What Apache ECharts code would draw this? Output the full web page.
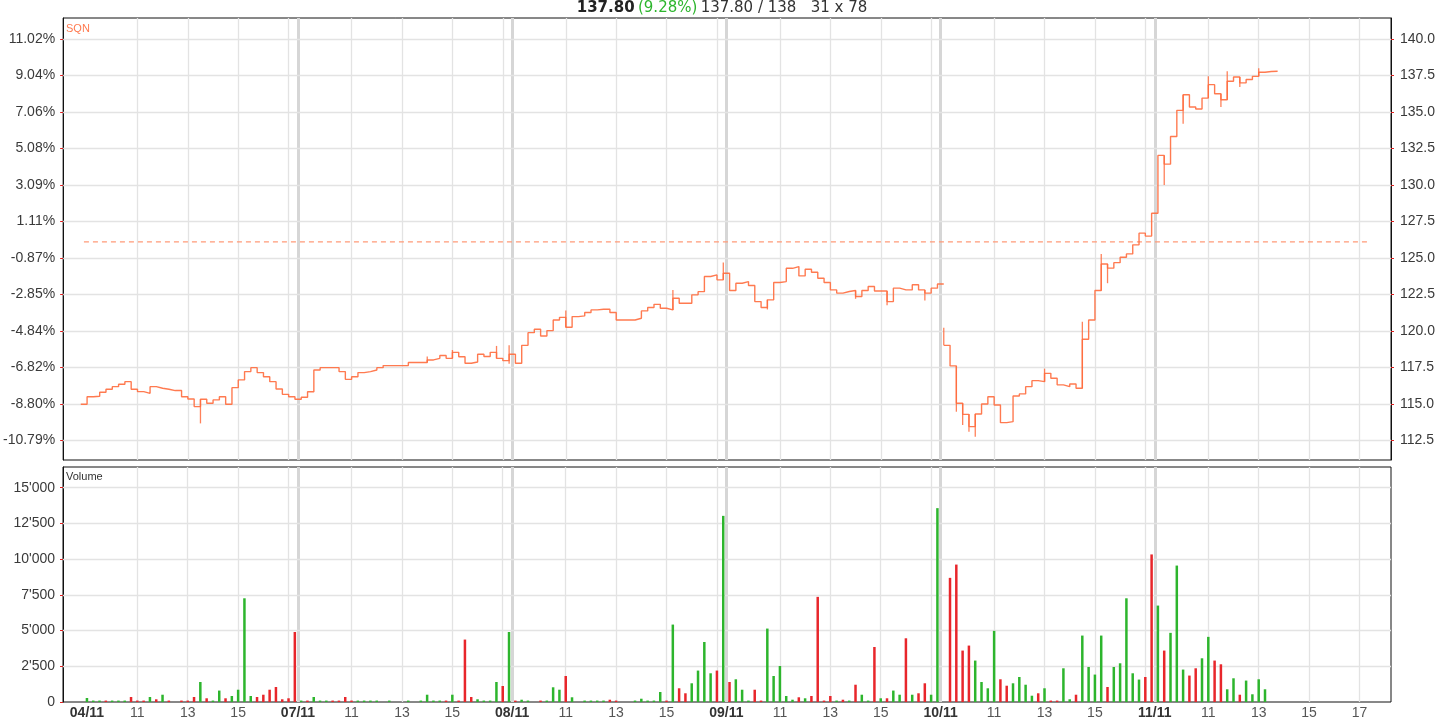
<!DOCTYPE html>
<html><head><meta charset="utf-8">
<script src="https://cdn.jsdelivr.net/npm/echarts@6/dist/echarts.min.js"></script>
<style>html,body{margin:0;padding:0;background:#fff}#c{width:1455px;height:727px}</style>
</head><body><div id="c"></div>
<script>
// ---------- data ----------
const days = ['04/11', '07/11', '08/11', '09/11', '10/11', '11/11'];
const slotsPerDay = 34;               // 15-minute bars, 09:00 .. 17:15
const hourTicks = ['11', '13', '15', '17'];
const hourSlots = [8, 16, 24, 32];    // 15-min slot of 11:00, 13:00, 15:00, 17:00
const priceTicks = [112.5, 115, 117.5, 120, 122.5, 125, 127.5, 130, 132.5, 135, 137.5, 140];
const volumeTicks = [0, 2500, 5000, 7500, 10000, 12500, 15000];
const refPrice = 126.10;
const header = { last: '137.80', change: '9.28%', bidAsk: '137.80 / 138', size: '31 x 78' };

// close price per 15-min slot, first value at slot -1
const priceStartSlot = -1;
const price = [
  114.97,115.49,115.52,115.79,116.00,116.18,116.34,116.52,116.00,115.84,
  115.72,116.18,116.07,116.00,115.91,115.91,115.49,115.33,114.81,115.31,
  115.04,115.27,115.49,114.97,116.11,116.64,117.21,117.48,117.14,116.86,
  116.52,116.02,115.65,115.49,115.31,115.45,115.83,117.32,117.48,117.48,
  117.48,117.21,116.68,116.86,117.14,117.21,117.32,117.48,117.62,117.62,
  117.62,117.62,117.83,117.83,117.83,118.01,118.12,118.31,118.12,118.53,
  118.23,117.78,117.87,118.40,118.24,118.53,118.12,117.96,118.40,117.78,
  119.01,119.88,120.11,119.65,120.02,120.75,120.93,120.25,120.98,121.03,
  121.26,121.44,121.48,121.48,121.26,120.75,120.75,120.75,120.87,121.37,
  121.60,121.82,121.55,121.44,122.24,121.90,121.90,122.47,122.69,123.73,
  123.84,123.50,123.95,122.77,123.27,123.38,123.11,122.01,121.60,122.13,
  123.32,123.38,124.29,124.41,123.77,124.23,124.02,123.61,123.32,122.81,
  122.59,122.70,122.77,122.36,122.77,123.04,122.74,122.74,122.01,122.93,
  122.81,122.81,123.16,122.81,122.59,122.93,123.22,119.01,117.60,115.04,
  114.28,113.44,114.30,114.99,115.49,114.92,113.71,113.78,115.54,115.68,
  116.18,116.59,116.52,117.09,116.75,116.30,116.18,116.36,116.07,119.43,
  120.75,122.77,124.59,124.30,124.68,125.05,125.28,125.90,126.70,126.50,
  128.07,132.03,131.43,133.33,135.12,136.19,135.35,135.21,135.96,136.88,
  136.26,135.85,137.11,137.41,137.00,137.23,137.45,137.73,137.78,137.80
];
const priceGapSlots = [136];           // opening gap on 10/11

// visible high/low ranges of single 15-min bars: [slot, low, high]
const highLow = [
  [18,113.66,115.31],[54,117.83,118.24],[58,118.12,118.69],[65,118.12,118.97],[67,117.74,119.01],
  [76,120.25,121.39],[93,121.44,122.81],[101,123.50,124.69],[108,121.47,122.13],[122,122.20,122.77],
  [127,121.76,122.74],[133,122.08,122.81],[136,119.01,120.22],[138,114.46,117.60],[139,113.55,115.04],
  [140,113.09,114.28],[141,112.75,114.30],[152,116.52,117.41],[158,116.07,120.63],[161,122.77,125.28],
  [162,123.27,124.59],[171,130.01,132.03],[174,134.20,136.19],[178,135.96,137.45],[180,135.35,136.26],
  [181,135.85,137.80],[183,136.72,137.41],[186,137.45,138.00]
];

// volume per 15-min slot of each day, and direction (g = up, r = down)
const volD1 = [280,100,100,100,100,100,100,350,100,100,350,190,510,100,0,100,100,350,1400,260,100,800,260,420,860,7260,420,350,510,860,1050,190,260,4900];
const volD2 = [100,100,350,100,100,100,100,350,100,100,100,100,100,0,100,0,0,100,0,100,510,100,100,100,510,100,4370,350,190,100,100,1400,1120,4900];
const volD3 = [100,160,100,0,100,100,1030,860,1820,330,0,100,100,100,100,160,100,0,0,100,230,100,100,700,100,5420,960,610,1310,2200,4200,2010,2200,13030];
const volD4 = [1400,1590,860,100,860,100,5140,1820,2520,420,160,330,260,420,7360,100,420,100,160,100,1210,510,100,3850,260,260,800,510,4460,510,610,1310,510,13570];
const volD5 = [0,8690,9620,3600,3950,2900,1400,960,4980,1590,1140,1310,1750,1210,440,610,960,100,100,2360,190,510,4650,2450,1920,4650,1050,2450,2710,7260,2010,1570,1750,10330];
const volD6 = [6750,3600,4840,9550,2270,1850,2360,3060,4560,2900,2640,890,1660,510,1500,540,1590,890];
const dirD1 = 'gggrgggrrrgrgrgrrrgrggrggggrrrrrrr';
const dirD2 = 'grgggrrrrggggggggggggggrgrrrggggrg';
const dirD3 = 'rgggrgggrggggggrrgggggggrgrrggggrg';
const dirD4 = 'rgggrrgggggrgrrrrgrgrggrgrggrgrrgg';
const dirD5 = 'grrrrggggrrggggrgrrggrggggrgggggrr';
const dirD6 = 'grgggrrggrrggrgggg';

// ---------- build ----------
const COLORS = { line: '#ff6b3d', ref: '#ff9a78', up: '#2db52d', down: '#e8262b', grid: '#e3e3e3', gridDay: '#d6d6d6' };
const X_MIN = -3.8, X_MAX = 207.0;
const FONT = 'Liberation Sans, Arial, sans-serif';

const volDays = [volD1, volD2, volD3, volD4, volD5, volD6];
const dirDays = [dirD1, dirD2, dirD3, dirD4, dirD5, dirD6];
const volData = [];
volDays.forEach((arr, d) => arr.forEach((v, s) => {
  if (v > 0) volData.push({ value: [d * slotsPerDay + s, v], itemStyle: { color: dirDays[d][s] === 'g' ? COLORS.up : COLORS.down } });
}));

const priceData = [];
price.forEach((v, i) => {
  const k = priceStartSlot + i;
  if (priceGapSlots.includes(k) && i > 0) {
    priceData.push([k, price[i - 1]]);
    priceData.push([k, null]);
  }
  priceData.push([k, v]);
});
priceData.push([priceStartSlot + price.length, price[price.length - 1]]);

const vLines = [];
days.forEach((d, i) => {
  if (i > 0) vLines.push({ xAxis: i * slotsPerDay - 0.5, lineStyle: { color: COLORS.gridDay, width: 3 } });
  hourSlots.forEach(h => vLines.push({ xAxis: i * slotsPerDay + h, lineStyle: { color: COLORS.grid, width: 1.3 } }));
});
const priceHLines = priceTicks.map(v => ({ yAxis: v, lineStyle: { color: COLORS.grid, width: 1.3 } }));
const volHLines = volumeTicks.filter(v => v > 0).map(v => ({ yAxis: v, lineStyle: { color: COLORS.grid, width: 1.3 } }));
const mk = (data) => ({ silent: true, symbol: 'none', z: 1, animation: false, label: { show: false }, lineStyle: { type: 'solid' }, data });

const xLabelMap = {};
days.forEach((d, i) => {
  xLabelMap[i === 0 ? 0 : i * slotsPerDay - 0.5] = '{d|' + d + '}';
  hourSlots.forEach((h, j) => {
    if (j === hourSlots.length - 1 && i < days.length - 1) return;
    xLabelMap[i * slotsPerDay + h] = '{h|' + hourTicks[j] + '}';
  });
});
const xCustom = Object.keys(xLabelMap).map(Number);

const fmtVol = v => String(v).replace(/\B(?=(\d{3})+(?!\d))/g, "'");
const fmtPct = v => ((v / refPrice - 1) * 100).toFixed(2) + '%';
const dayEnd = days.length * slotsPerDay - 0.5;

const yBase = (grid, pos, min, max, ticks, fmt, margin) => ({
  type: 'value', gridIndex: grid, position: pos, min, max, scale: true,
  axisLine: { show: true, onZero: false, lineStyle: { color: '#111', width: 1 } },
  axisTick: { show: true, length: 3, customValues: ticks, lineStyle: { color: '#e02020', width: 1 } },
  axisLabel: { customValues: ticks, formatter: fmt, color: '#3a3a3a', fontSize: 14, fontFamily: FONT, margin },
  splitLine: { show: false }
});

const option = {
  animation: false,
  backgroundColor: '#fff',
  grid: [
    { left: 63, right: 64, top: 18, height: 442, show: true, borderColor: '#111', borderWidth: 1 },
    { left: 63, right: 64, top: 467, height: 235, show: true, borderColor: '#111', borderWidth: 1 }
  ],
  xAxis: [
    { type: 'value', gridIndex: 0, min: X_MIN, max: X_MAX, axisLine: { show: false, onZero: false }, axisTick: { show: false }, axisLabel: { show: false }, splitLine: { show: false } },
    { type: 'value', gridIndex: 1, min: X_MIN, max: X_MAX, axisLine: { show: false, onZero: false }, axisTick: { show: false }, splitLine: { show: false },
      axisLabel: { customValues: xCustom, margin: 4, formatter: v => xLabelMap[v] || '',
        rich: { d: { fontWeight: 'bold', color: '#333', fontSize: 14, fontFamily: FONT }, h: { color: '#555', fontSize: 14, fontFamily: FONT } } } }
  ],
  yAxis: [
    yBase(0, 'right', 111.15, 141.45, priceTicks, v => v.toFixed(1), 9),
    yBase(0, 'left', 111.15, 141.45, priceTicks, fmtPct, 8),
    yBase(1, 'left', 0, 16450, volumeTicks, fmtVol, 8)
  ],
  series: [
    { type: 'line', name: 'ref', xAxisIndex: 0, yAxisIndex: 0, data: [[-0.5, refPrice], [dayEnd, refPrice]], symbol: 'none', z: 2,
      lineStyle: { color: COLORS.ref, width: 1.3, type: [5, 4] }, silent: true },
    { type: 'line', name: 'SQN', xAxisIndex: 0, yAxisIndex: 0, data: priceData, step: 'end', symbol: 'none', z: 3,
      connectNulls: false, lineStyle: { color: COLORS.line, width: 1.4, opacity: 0.9 },
      markLine: mk(vLines.concat(priceHLines)) },
    { type: 'custom', name: 'range', xAxisIndex: 0, yAxisIndex: 0, data: highLow, z: 3, silent: true,
      renderItem: (params, api) => {
        const a = api.coord([api.value(0), api.value(1)]);
        const b = api.coord([api.value(0), api.value(2)]);
        return { type: 'line', shape: { x1: a[0], y1: a[1], x2: b[0], y2: b[1] },
          style: { stroke: COLORS.line, lineWidth: 1.3, opacity: 0.85 } };
      } },
    { type: 'bar', name: 'Volume', xAxisIndex: 1, yAxisIndex: 2, data: volData, barWidth: 2.5, z: 3,
      markLine: mk(vLines.concat(volHLines)) }
  ],
  graphic: [
    { type: 'text', x: 722, y: 1, style: { text: '{b|' + header.last + '} {g|(' + header.change + ')} {t|' + header.bidAsk + '   ' + header.size + '}',
        align: 'center', verticalAlign: 'top',
        rich: { b: { fontWeight: 'bold', fontSize: 15, fill: '#222', fontFamily: 'DejaVu Sans', lineHeight: 15 },
                g: { fontSize: 15, fill: '#2db52d', fontFamily: 'DejaVu Sans', lineHeight: 15 },
                t: { fontSize: 15, fill: '#333', fontFamily: 'DejaVu Sans', lineHeight: 15 } } } },
    { type: 'text', x: 66, y: 29, style: { text: 'SQN', fill: '#ff7a50', fontSize: 11, fontFamily: FONT, verticalAlign: 'middle' } },
    { type: 'text', x: 66, y: 477, style: { text: 'Volume', fill: '#333', fontSize: 11, fontFamily: FONT, verticalAlign: 'middle' } }
  ]
};
const chart = echarts.init(document.getElementById('c'));
chart.setOption(option);
</script>
</body></html>
